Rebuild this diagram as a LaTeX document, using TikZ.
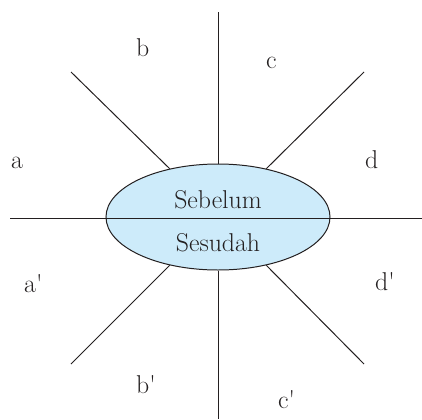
\documentclass[tikz,border=0pt]{standalone}
\usetikzlibrary{shapes.geometric}
\definecolor{OvalFill}{HTML}{CDEBFA}
\definecolor{InkGray}{HTML}{231F20}

\begin{document}
\begin{tikzpicture}[x=0.03cm,y=-0.03cm,font=\fontsize{22}{26}\selectfont]
    \tikzset{spoke/.style={InkGray,line width=0.85pt},
      letter/.style={anchor=base west,inner sep=0pt,text=InkGray},
      caption/.style={anchor=base,inner sep=0pt,text=InkGray}}
    \useasboundingbox (0,0) rectangle (422,419);
    \node[ellipse,draw=InkGray,line width=0.85pt,fill=OvalFill,inner sep=0pt,
      minimum width=6.72cm,minimum height=3.18cm] (oval) at (218,217) {};
    \coordinate (top) at (218,12);
    \coordinate (bottom) at (218,419);
    \coordinate (west) at (10,218);
    \coordinate (east) at (422,218);
    \coordinate (nw) at (71,72);
    \coordinate (ne) at (364,72);
    \coordinate (sw) at (71,364);
    \coordinate (se) at (364,364);
    \draw[spoke] (top)--(oval.north);
    \draw[spoke] (oval.south)--(bottom);
    \draw[spoke] (nw)--(oval.135);
    \draw[spoke] (ne)--(oval.45);
    \draw[spoke] (sw)--(oval.225);
    \draw[spoke] (se)--(oval.315);
    \draw[spoke] (west)--(east);
    \node[caption] (before) at (218,208) {Sebelum};
    \node[caption] (after) at (218,251) {Sesudah};
    \node[letter] (la) at (11,168) {a};
    \node[letter] (lb) at (136,56) {b};
    \node[letter] (lc) at (266,68) {c};
    \node[letter] (ld) at (365,168) {d};
    \node[letter] (la2) at (24,292) {a\textquotesingle};
    \node[letter] (lb2) at (136,393) {b\textquotesingle};
    \node[letter] (lc2) at (278,408) {c\textquotesingle};
    \node[letter] (ld2) at (375,290) {d\textquotesingle};
  \end{tikzpicture}
\end{document}
